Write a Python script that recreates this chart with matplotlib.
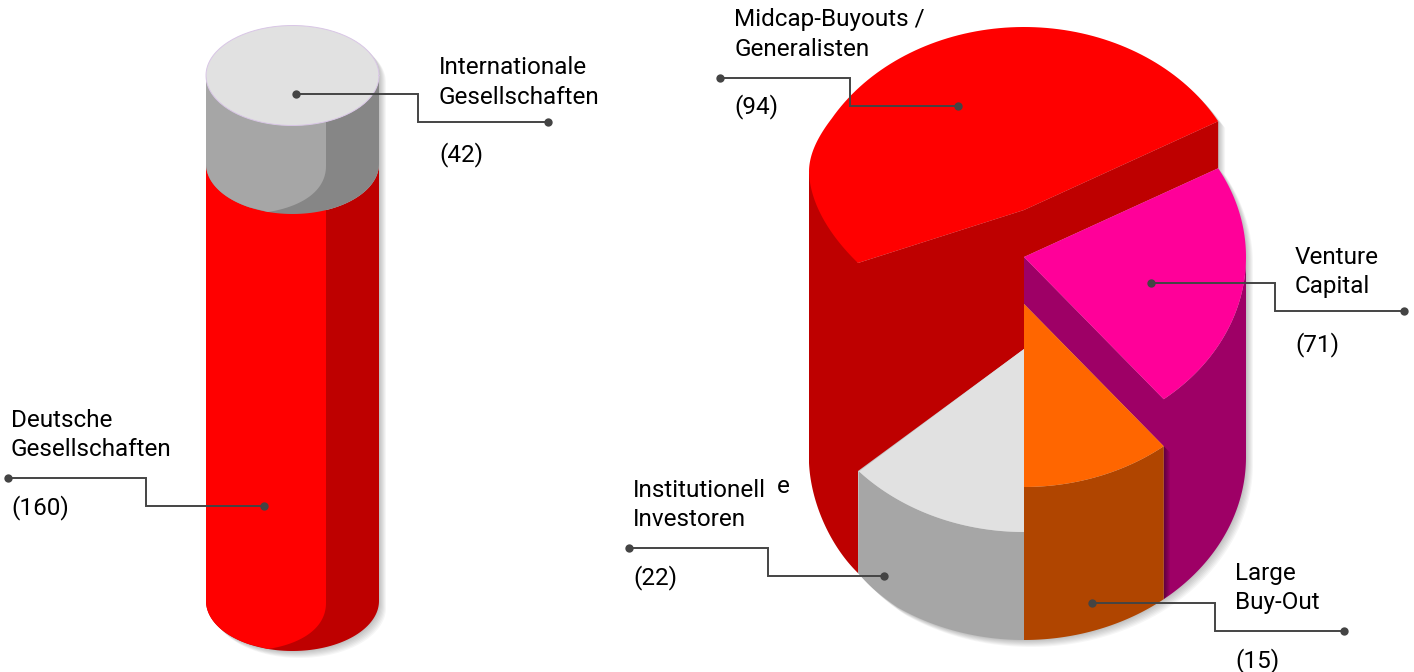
import numpy as np
import matplotlib
matplotlib.use('Agg')
import matplotlib.pyplot as plt

# left cylinder
cyl_names = ['Deutsche\nGesellschaften', 'Internationale\nGesellschaften']
cyl_values = [160, 42]

# right pie
pie_names = ['Midcap-Buyouts /\nGeneralisten', 'Venture\nCapital', 'Large\nBuy-Out', 'Institutionell\nInvestoren']
pie_values = [94, 71, 15, 22]

# wedge edges (degrees) and the height of each top
edge_red = 29
edge_mag = -51
edge_front = -90
edge_grey = -138
top_red, top_mag, top_org, top_gry = 210, 257, 304, 349
base = 457

RED, RED_D = '#ff0000', '#be0000'
MAG, MAG_D = '#ff0099', '#9e0066'
ORG, ORG_D = '#ff6600', '#b04500'
GRY, GRY_D, GRY_DD = '#e1e1e1', '#a6a6a6', '#868686'
LINE = '#444444'

plt.rcParams['font.family'] = ['Roboto', 'DejaVu Sans']

fig = plt.figure(figsize=(14.14, 6.72), dpi=100)
ax = fig.add_axes([0, 0, 1, 1])
ax.set_xlim(0, 1414)
ax.set_ylim(672, 0)
ax.axis('off')

cx, rx, ry = 1024, 222, 183


def arc(cy, a0, a1, cx=cx, rx=rx, ry=ry, n=80):
    t = np.radians(np.linspace(a0, a1, n))
    return np.column_stack([cx + rx * np.cos(t), cy - ry * np.sin(t)])


def poly(pts, color, z=2, alpha=1):
    pts = np.asarray(pts)
    ax.fill(pts[:, 0], pts[:, 1], color=color, lw=0, zorder=z, alpha=alpha)


def curve(p0, p1, p2, p3, n=40):
    t = np.linspace(0, 1, n)[:, None]
    p0, p1, p2, p3 = map(np.array, (p0, p1, p2, p3))
    return (1-t)**3*p0 + 3*(1-t)**2*t*p1 + 3*(1-t)*t**2*p2 + t**3*p3


def shadow(pts, steps=7, dx=1.0, dy=1.0):
    pts = np.asarray(pts)
    for i in range(1, steps + 1):
        poly(pts + [i*dx, i*dy], 'black', z=1, alpha=0.035)


# ---- pie ----
# the left side is squeezed in the original, so the rim leaves the ellipse there
a_lim = arc(top_red, edge_red, 150)
red_corner = curve(a_lim[-1], (816, 139), (809, 156), (809, 172))
red_top = np.vstack([[[cx, top_red]], a_lim, red_corner,
                     curve((809, 172), (810, 205), (832, 238), (858, 263))])
left_bottom = curve((809, 463), (811, 505), (832, 548), (858, 573))

# grey and orange outer edge along the base
gry_low = np.vstack([arc(base, edge_front, -125),
                     curve((897, 607), (882, 597), (868, 585), (858, 573), n=15)])

# silhouette for the soft shadow
outline = np.vstack([a_lim, red_corner, [[809, 463]], left_bottom, gry_low[::-1],
                     arc(base, edge_front, 0), arc(top_mag, 0, edge_red),
                     arc(top_red, edge_red, edge_red, n=1)])
shadow(outline)

# dark red body and side
poly(np.vstack([[[809, 172]], [[809, 463]], left_bottom, [[858, 471]], [[cx, top_gry]],
                [[cx, top_mag]], arc(top_mag, edge_red, edge_red, n=1),
                arc(top_red, edge_red, edge_red, n=1), [[cx, top_red]], [[858, 263]]]), RED_D)
poly(red_top, RED, z=3)

# magenta
mag_rim = arc(top_mag, edge_red, edge_mag)
poly(np.vstack([[[cx, top_mag]], [[cx, top_org]], arc(top_org, edge_mag, edge_mag, n=1),
                arc(base, edge_mag, 0), arc(top_mag, 0, edge_mag)]), MAG_D)
poly(np.vstack([[[cx, top_mag]], mag_rim]), MAG, z=3)

# orange
org_rim = arc(top_org, edge_mag, edge_front)
org_low = arc(base, edge_front, edge_mag)
poly(np.vstack([org_rim, org_low]), ORG_D, z=3)
poly(np.vstack([[[cx, top_org]], org_rim]), ORG, z=4)
x_edge = org_rim[0, 0]
for i in range(1, 7):
    poly([(x_edge, org_rim[0, 1]), (x_edge + i, org_rim[0, 1] + i),
          (x_edge + i, org_low[-1, 1] - i), (x_edge, org_low[-1, 1])], 'black', z=2.5, alpha=0.07)

# grey
gry_rim = arc(top_gry, edge_grey, edge_front)
poly(np.vstack([gry_rim, gry_low]), GRY_D, z=3)
poly(np.vstack([[[cx, top_gry]], gry_rim]), GRY, z=4)

# ---- cylinder ----
ccx, crx, cry = 292.5, 86.5, 50
c_top, c_mid, c_low = 75.5, 164, 601


def cyl_body(y0, y1):
    return np.vstack([arc(y0, 180, 360, ccx, crx, cry), arc(y1, 360, 180, ccx, crx, cry)])


def cyl_light(y0, y1, x0=326):
    # front part, the lighter one with the rounded corner
    lower = arc(y1, 180, 240, ccx, crx, cry, n=30)
    lower = lower[lower[:, 0] <= 268]
    bend = curve((268, y1 + 48), (300, y1 + 43), (x0, y1 + 28), (x0, y1 + 2))
    return np.vstack([[[206, y0]], lower, bend, [[x0, y0]]])


shadow(np.vstack([arc(c_top, 180, 0, ccx, crx, cry), arc(c_low, 0, -180, ccx, crx, cry)]))
poly(cyl_body(c_mid, c_low), RED_D, z=2)
poly(cyl_light(c_mid, c_low), RED, z=3)
poly(cyl_body(c_top, c_mid), GRY_DD, z=4)
poly(cyl_light(c_top, c_mid), GRY_D, z=5)
rim = arc(c_top, 0, 360, ccx, crx, cry, n=160)
poly(rim, GRY, z=6)
ax.plot(rim[:, 0], rim[:, 1], color='#d9c6e6', lw=0.7, zorder=6)


# ---- labels ----
def leader(pts):
    pts = np.array(pts)
    ax.plot(pts[:, 0], pts[:, 1], color=LINE, lw=1.4, zorder=8, solid_joinstyle='miter')
    ax.plot(pts[[0, -1], 0], pts[[0, -1], 1], ls='none', marker='o', ms=6, color=LINE, mew=0, zorder=9)


def label(x, y, name, value):
    lines = name.split('\n')
    for k, s in enumerate(lines):
        ax.text(x, y + k * 29.5, s, fontsize=17.5, color='black', va='baseline', ha='left', zorder=10)
    ax.text(x, y + 87, f'({value})', fontsize=17.5, color='black', va='baseline', ha='left', zorder=10)


label(11, 427, cyl_names[0], cyl_values[0])
leader([(8, 478), (146, 478), (146, 506), (264, 506)])
label(439, 74, cyl_names[1], cyl_values[1])
leader([(296, 94), (418, 94), (418, 122), (548, 122)])
label(734, 26, pie_names[0], pie_values[0])
leader([(720, 78), (850, 78), (850, 106), (958, 106)])
label(1295, 264, pie_names[1], pie_values[1])
leader([(1151, 283), (1275, 283), (1275, 311), (1404, 311)])
label(1235, 580, pie_names[2], pie_values[2])
leader([(1092, 603), (1215, 603), (1215, 631), (1344, 631)])
label(633, 497, pie_names[3], pie_values[3])
ax.text(777, 493, 'e', fontsize=17.5, color='black', va='baseline', ha='left', zorder=10)
leader([(629, 548), (768, 548), (768, 576), (884, 576)])

fig.savefig('out.png', dpi=100)
